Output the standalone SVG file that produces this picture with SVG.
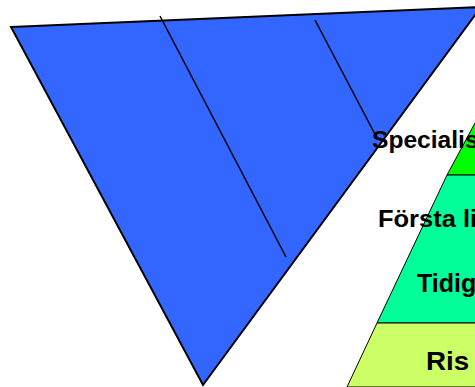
<svg xmlns="http://www.w3.org/2000/svg" width="475" height="387" viewBox="0 0 475 387">
<style>
.lbl{font-family:"Liberation Sans",Arial,sans-serif;font-weight:bold;fill:#000}
.edge{stroke:#000;stroke-width:1.5;fill:none}
</style>
<rect width="475" height="387" fill="#fff"/>
<g id="pyramid">
<polygon points="482,110 447,175 540,175 520,110" fill="#00FF00" stroke="#000" stroke-width="1"/>
<polygon points="447,175 377,323 600,323 540,175" fill="#00FF99" stroke="#000" stroke-width="1"/>
<polygon points="377,323 347,387 600,387 600,323" fill="#CCFF66" stroke="#000" stroke-width="1"/>
</g>
<g id="funnel">
<polygon points="11,27 481,7 203,385" fill="#3366FF" stroke="#000" stroke-width="2" stroke-linejoin="miter"/>
</g>
<g id="connectors">
<line class="edge" x1="160" y1="16" x2="286" y2="257"/>
<line class="edge" x1="315" y1="20" x2="377" y2="138"/>
</g>
<g id="labels">
<text class="lbl" transform="translate(372,147.5) scale(1.07,1)" font-size="23">Specialis</text>
<text class="lbl" transform="translate(378,227) scale(1.04,1)" font-size="24.5">Första li</text>
<text class="lbl" transform="translate(417,292) scale(1,1)" font-size="25">Tidig</text>
<text class="lbl" transform="translate(426,370) scale(1.07,1)" font-size="26">Ris</text>
</g>
</svg>
